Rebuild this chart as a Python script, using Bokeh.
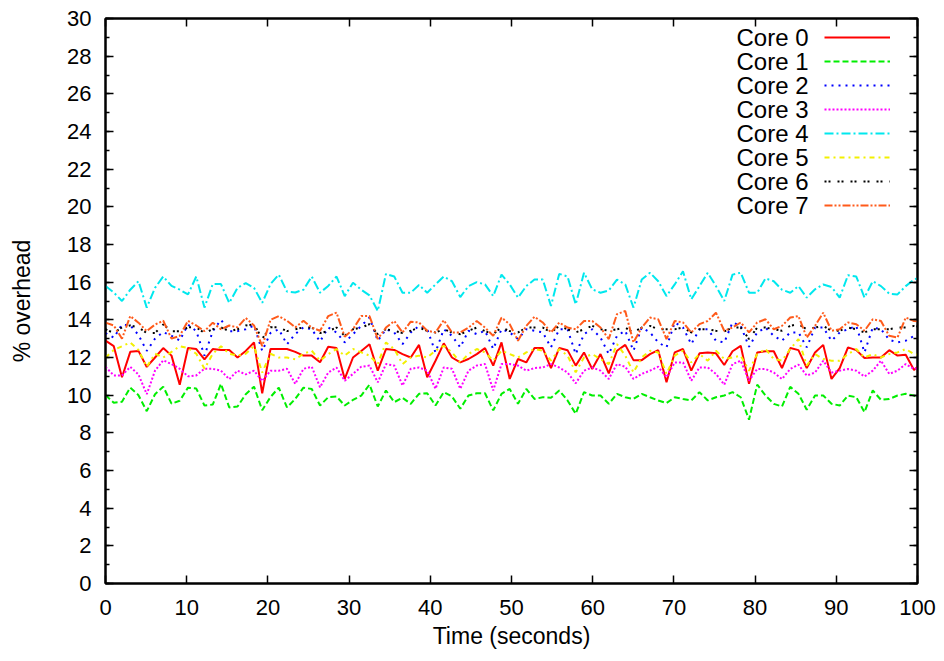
from bokeh.plotting import figure
from bokeh.models import (LinearAxis, Range1d, Legend, LegendItem, Label, FixedTicker,
                          CustomLabelingPolicy)
from bokeh.embed import file_html
from bokeh.resources import INLINE

time_s = [0.00, 1.02, 2.03, 3.05, 4.06, 5.08, 6.10, 7.11, 8.13, 9.14,
          10.16, 11.18, 12.19, 13.21, 14.22, 15.24, 16.26, 17.27, 18.29, 19.30,
          20.32, 21.34, 22.35, 23.37, 24.38, 25.40, 26.42, 27.43, 28.45, 29.46,
          30.48, 31.50, 32.51, 33.53, 34.54, 35.56, 36.58, 37.59, 38.61, 39.62,
          40.64, 41.66, 42.67, 43.69, 44.70, 45.72, 46.74, 47.75, 48.77, 49.78,
          50.80, 51.82, 52.83, 53.85, 54.86, 55.88, 56.90, 57.91, 58.93, 59.94,
          60.96, 61.98, 62.99, 64.01, 65.02, 66.04, 67.06, 68.07, 69.09, 70.10,
          71.12, 72.14, 73.15, 74.17, 75.18, 76.20, 77.22, 78.23, 79.25, 80.26,
          81.28, 82.30, 83.31, 84.33, 85.34, 86.36, 87.38, 88.39, 89.41, 90.42,
          91.44, 92.46, 93.47, 94.49, 95.50, 96.52, 97.54, 98.55, 99.57, 100.58]

core0 = [12.9, 12.6, 10.95, 12.3, 12.35, 11.5, 12.0, 12.5, 12.1, 10.55, 12.5, 12.45, 11.9, 12.45, 12.4, 12.4, 12.0, 12.35, 12.8, 10.1, 12.45, 12.45, 12.45, 12.3, 12.1,
         12.1, 11.75, 12.57, 12.5, 10.86, 12.0, 12.35, 12.7, 11.3, 12.45, 12.4, 12.18, 12.0, 12.67, 10.95, 11.83, 12.75, 12.0, 11.74, 11.92, 12.18, 12.5, 11.57, 12.8, 10.86,
         11.92, 11.74, 12.5, 12.5, 11.44, 12.5, 12.39, 11.57, 12.27, 11.39, 12.18, 11.16, 12.36, 12.67, 11.86, 11.86, 12.18, 12.39, 10.69, 12.27, 12.45, 11.3, 12.22, 12.27,
         12.22, 11.6, 12.33, 12.62, 10.6, 12.27, 12.33, 12.33, 11.44, 12.5, 12.39, 11.44, 12.27, 12.67, 10.86, 11.44, 12.54, 12.39, 11.97, 12.0, 12.0, 12.39, 12.1, 12.15, 11.34, 11.7]
core1 = [10.0, 9.6, 9.65, 10.4, 10.0, 9.15, 10.05, 10.45, 9.55, 9.7, 10.4, 10.35, 9.45, 9.5, 10.6, 9.35, 9.4, 10.05, 10.45, 9.2, 9.9, 10.4, 9.35, 9.8, 10.4,
         10.33, 9.45, 9.89, 9.93, 9.45, 9.75, 9.98, 10.56, 9.4, 10.25, 9.63, 9.86, 9.54, 10.07, 10.1, 9.45, 10.16, 9.93, 9.28, 9.98, 10.1, 10.1, 9.19, 10.07, 10.33,
         9.54, 10.33, 9.8, 9.89, 9.86, 10.25, 9.72, 9.01, 10.16, 9.98, 9.98, 9.54, 10.07, 9.89, 9.8, 10.07, 9.89, 9.72, 9.58, 9.89, 9.8, 9.72, 10.16, 9.72,
         9.89, 9.98, 10.16, 9.89, 8.7, 10.56, 9.98, 9.54, 9.4, 10.44, 10.07, 9.23, 9.98, 9.98, 9.54, 9.45, 9.98, 9.89, 9.1, 10.25, 9.75, 9.8, 9.98, 10.07, 9.98, 9.55]
core2 = [13.3, 13.05, 13.75, 13.7, 13.2, 12.35, 13.0, 13.35, 13.15, 12.9, 13.75, 13.4, 12.1, 13.4, 14.0, 13.4, 13.4, 13.5, 13.7, 12.35, 13.3, 13.5, 12.7, 13.25, 13.6,
         13.5, 12.85, 13.59, 13.33, 12.8, 13.24, 13.68, 14.12, 12.89, 13.5, 13.33, 12.71, 13.33, 13.68, 13.5, 12.27, 13.5, 13.15, 12.54, 13.42, 13.24, 13.42, 12.45, 13.5, 13.33,
         12.98, 13.5, 13.42, 13.33, 12.54, 13.5, 13.5, 12.18, 13.24, 13.5, 13.06, 12.18, 13.15, 13.42, 12.36, 13.59, 13.33, 12.8, 12.54, 13.86, 13.59, 12.71, 13.5, 13.5,
         12.89, 12.8, 13.86, 13.68, 12.57, 13.33, 13.59, 13.15, 12.89, 13.33, 13.33, 12.54, 13.59, 13.59, 12.89, 13.33, 13.5, 13.68, 12.27, 13.59, 13.5, 12.94, 12.8, 12.89, 13.15, 13.3]
core3 = [11.5, 11.05, 11.05, 11.5, 11.1, 10.05, 11.3, 11.85, 11.65, 11.4, 11.0, 11.05, 11.4, 11.4, 11.3, 10.85, 11.3, 11.1, 11.3, 10.75, 11.3, 11.3, 11.4, 10.6, 11.4,
         11.51, 10.42, 11.2, 11.47, 10.77, 11.13, 11.51, 11.57, 10.68, 11.65, 11.57, 10.51, 11.4, 11.47, 11.3, 10.34, 11.47, 11.4, 10.34, 11.3, 11.57, 11.65, 10.25, 11.65, 11.65,
         11.57, 11.3, 11.44, 11.47, 11.65, 11.47, 11.2, 10.63, 11.3, 11.47, 11.3, 10.86, 11.65, 11.51, 10.86, 11.13, 11.3, 11.51, 10.95, 11.74, 11.74, 10.77, 11.47, 11.47,
         11.13, 10.56, 11.65, 11.83, 10.77, 11.39, 11.39, 11.2, 10.86, 11.39, 11.62, 11.04, 11.2, 11.83, 11.2, 11.3, 11.39, 11.3, 10.99, 11.3, 11.83, 11.13, 11.3, 11.65, 11.39, 11.5]
core4 = [15.8, 15.45, 15.0, 15.6, 16.05, 14.65, 15.7, 16.3, 15.8, 15.6, 15.35, 16.3, 14.65, 15.9, 15.9, 14.9, 15.7, 15.95, 15.7, 14.9, 15.9, 16.4, 15.5, 15.45, 15.6,
         16.3, 15.44, 15.8, 16.3, 15.26, 15.97, 15.6, 15.3, 14.47, 16.44, 16.3, 15.44, 15.44, 15.85, 15.44, 15.88, 16.3, 16.05, 15.21, 15.79, 16.0, 15.88, 15.26, 16.4, 15.88,
         15.18, 15.79, 16.14, 16.14, 14.74, 16.44, 16.3, 14.82, 16.5, 15.62, 15.44, 15.56, 16.14, 15.88, 14.65, 16.14, 16.5, 16.05, 15.26, 15.88, 16.58, 15.09, 15.79, 16.5,
         15.79, 15.0, 16.4, 16.5, 15.44, 15.44, 16.2, 16.05, 15.6, 15.44, 15.79, 15.18, 15.62, 15.88, 15.74, 15.18, 16.37, 16.3, 15.18, 16.05, 15.79, 15.39, 15.35, 15.79, 16.14, 16.3]
core5 = [12.0, 12.4, 12.6, 12.8, 12.4, 11.5, 12.2, 12.0, 12.3, 12.6, 12.5, 12.2, 11.4, 12.2, 12.6, 12.2, 12.1, 12.2, 12.6, 11.2, 12.2, 12.0, 12.0, 11.9, 12.2,
         12.36, 11.83, 12.18, 12.45, 12.1, 12.45, 12.27, 12.1, 11.65, 12.8, 12.45, 11.65, 12.0, 12.1, 12.0, 12.36, 12.62, 12.27, 11.74, 12.18, 12.45, 12.27, 11.83, 12.36, 12.18,
         12.0, 12.27, 12.45, 12.36, 11.83, 12.45, 12.1, 11.21, 12.0, 12.18, 11.92, 11.65, 12.71, 12.1, 11.21, 12.0, 12.36, 12.27, 11.13, 12.1, 12.36, 11.74, 12.18, 11.83,
         12.36, 11.92, 12.0, 12.1, 11.3, 12.18, 12.45, 11.92, 11.83, 12.45, 12.98, 11.57, 12.18, 11.92, 11.83, 11.83, 12.18, 12.45, 12.0, 12.18, 12.0, 12.18, 12.27, 12.45, 12.18, 12.1]
core6 = [13.5, 13.3, 13.6, 13.7, 13.6, 13.3, 13.3, 13.75, 13.4, 13.4, 13.6, 13.6, 13.3, 13.5, 13.6, 13.4, 13.5, 13.7, 13.75, 13.0, 13.6, 13.6, 13.4, 13.5, 13.6,
         13.59, 13.3, 13.4, 13.59, 13.15, 13.5, 13.59, 13.77, 13.24, 13.5, 13.42, 13.3, 13.42, 13.59, 13.42, 13.33, 13.5, 13.33, 13.24, 13.42, 13.59, 13.4, 13.24, 13.59, 13.4,
         13.33, 13.59, 13.59, 13.59, 13.33, 13.68, 13.5, 13.33, 13.5, 13.68, 13.5, 13.42, 13.5, 13.59, 13.33, 13.59, 13.68, 13.5, 13.5, 13.5, 13.59, 13.33, 13.5, 13.5,
         13.42, 13.38, 13.59, 13.59, 12.98, 13.59, 13.59, 13.5, 13.42, 13.68, 13.77, 13.5, 13.59, 13.68, 13.42, 13.42, 13.59, 13.5, 13.33, 13.5, 13.5, 13.5, 13.59, 13.59, 13.68, 13.6]
core7 = [13.85, 13.7, 13.0, 14.2, 13.85, 13.4, 13.75, 13.95, 13.0, 13.15, 13.95, 13.7, 13.4, 13.85, 13.5, 13.7, 13.6, 14.1, 13.7, 12.6, 14.0, 14.2, 13.95, 13.6, 13.95,
         13.59, 13.42, 14.2, 14.38, 13.1, 13.5, 14.2, 14.2, 12.98, 13.59, 13.94, 13.33, 13.9, 13.86, 13.42, 13.33, 13.98, 13.33, 13.33, 13.59, 13.94, 13.59, 13.15, 14.12, 13.77,
         12.89, 13.68, 14.16, 13.86, 13.33, 13.86, 13.59, 13.5, 13.94, 13.94, 13.59, 12.98, 14.3, 14.47, 12.8, 13.59, 14.12, 14.03, 12.98, 13.94, 13.86, 13.33, 13.77, 13.94,
         14.38, 13.42, 13.59, 13.86, 13.33, 13.86, 14.03, 13.5, 13.68, 14.12, 14.2, 13.06, 13.68, 14.38, 13.42, 13.5, 13.86, 13.77, 13.42, 14.03, 13.94, 13.15, 13.06, 14.12, 13.94, 13.9]

series_names = ["Core 0", "Core 1", "Core 2", "Core 3", "Core 4", "Core 5", "Core 6", "Core 7"]
series_values = [core0, core1, core2, core3, core4, core5, core6, core7]
x_ticks = [0, 10, 20, 30, 40, 50, 60, 70, 80, 90, 100]
y_ticks = [0, 2, 4, 6, 8, 10, 12, 14, 16, 18, 20, 22, 24, 26, 28, 30]
y_minor = list(range(0, 31))

colors = ["#ff0000", "#00ee00", "#0000ff", "#ff00ff", "#00e8ee", "#f2f000", "#000000", "#ff5a1a"]
dashes = ["solid", "6 3", "2 5", "2 2", "9 3 2 3", "5 4 2 4", "2 2 2 7", "8 2 2 2 2 2"]
widths = [2, 2, 2, 2, 2, 2, 2, 2]

FONT = "Liberation Sans"
TICK_FS = "22px"
LABEL_FS = "23px"
LEGEND_FS = "24px"

p = figure(width=944, height=661, output_backend="svg", toolbar_location=None,
           x_range=Range1d(0, 100), y_range=Range1d(0, 30),
           min_border_left=105, min_border_right=25, min_border_top=16, min_border_bottom=78)
p.grid.visible = False
p.outline_line_color = "black"
p.outline_line_width = 2
p.background_fill_color = "white"
p.border_fill_color = "white"


def style_axis(ax, show_labels):
    ax.axis_line_width = 2
    ax.major_tick_in = 8
    ax.major_tick_out = 0
    ax.minor_tick_in = 4
    ax.minor_tick_out = 0
    ax.major_tick_line_width = 1.5
    ax.minor_tick_line_width = 1.5
    ax.major_label_text_font = FONT
    ax.major_label_text_color = "black"
    ax.major_label_text_font_size = TICK_FS
    if not show_labels:
        ax.major_label_standoff = 0
        ax.major_label_policy = CustomLabelingPolicy(code="return new Set()")


xa = p.xaxis[0]
ya = p.yaxis[0]
xa.ticker = FixedTicker(ticks=x_ticks)
ya.ticker = FixedTicker(ticks=y_ticks, minor_ticks=y_minor)
style_axis(xa, True)
style_axis(ya, True)
xa.major_label_standoff = 16
ya.major_label_standoff = 14
xa.axis_label = "Time (seconds)"
ya.axis_label = "% overhead"
for ax in (xa, ya):
    ax.axis_label_text_font = FONT
    ax.axis_label_text_font_size = LABEL_FS
    ax.axis_label_text_font_style = "normal"
    ax.axis_label_text_color = "black"
xa.axis_label_standoff = 5
ya.axis_label_standoff = 29

ra = LinearAxis(ticker=FixedTicker(ticks=y_ticks, minor_ticks=y_minor))
ta = LinearAxis(ticker=FixedTicker(ticks=x_ticks))
style_axis(ra, False)
style_axis(ta, False)
p.add_layout(ra, "right")
p.add_layout(ta, "above")

items = []
for name, vals, c, d, w in zip(series_names, series_values, colors, dashes, widths):
    r = p.line(time_s, vals, line_color=c, line_dash=d, line_width=w)
    items.append(LegendItem(label=" ", renderers=[r]))

legend = Legend(items=items, location=(719, 367), glyph_width=66, glyph_height=22,
                label_height=22, label_width=0, label_standoff=0, spacing=2,
                padding=0, margin=0, label_text_font_size="2px",
                background_fill_alpha=0, border_line_alpha=0)
p.add_layout(legend)

for k, name in enumerate(series_names):
    p.add_layout(Label(x=703, y=545.7 - 24 * k, x_units="screen", y_units="screen",
                       text=name, text_align="right", text_baseline="middle",
                       text_font=FONT, text_font_size=LEGEND_FS, text_color="black"))

open("out.html", "w").write(file_html(p, INLINE))
